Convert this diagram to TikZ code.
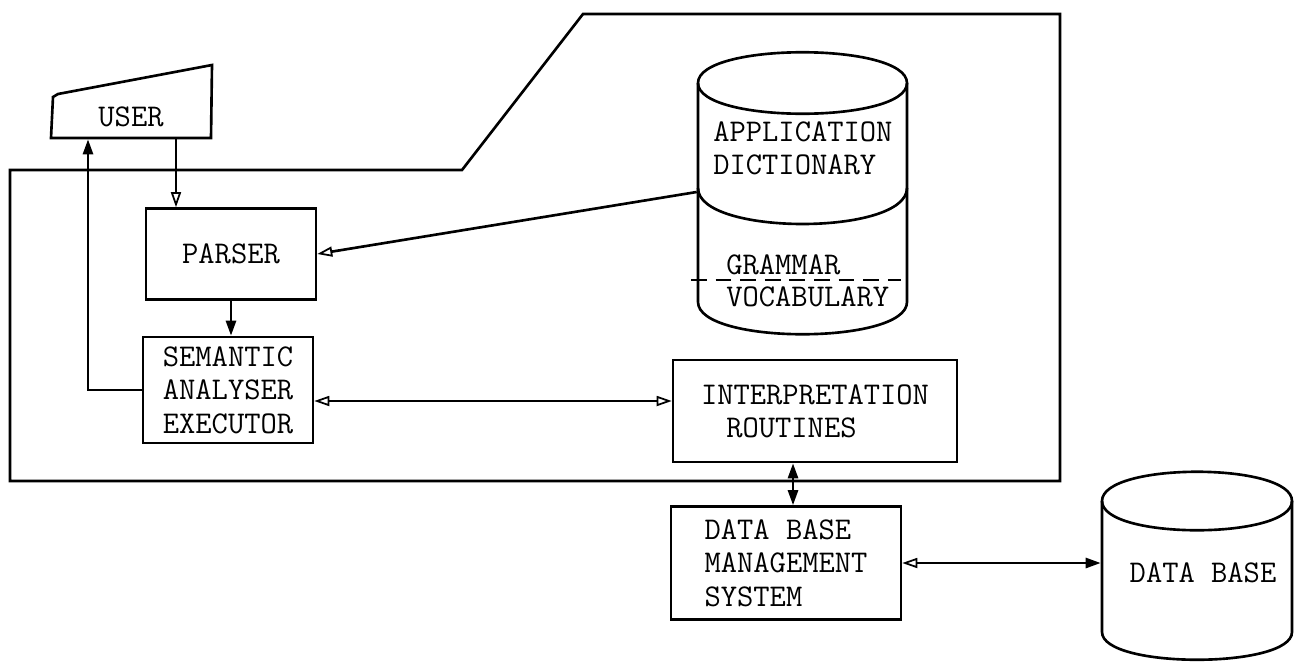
\documentclass[tikz,border=0pt]{standalone}
\usepackage{fontspec}
\usetikzlibrary{arrows.meta}

\tikzset{
    tfill/.tip={Triangle[length=3mm, width=2mm]},
    topen/.tip={Triangle[open, length=3mm, width=2mm, line width=1pt]}
}

\begin{document}
\begin{tikzpicture}[x=0.02cm, y=-0.02cm, line width=1.5pt,
        font=\ttfamily\fontsize{18}{19}\selectfont,
        box/.style={draw, align=left, inner sep=0pt},
        anchorbox/.style={inner sep=0pt}]
        \useasboundingbox (0,0) rectangle (1297,663);

        % frame round the system
        \draw (10,170)--(462,170)--(583,14)--(1060,14)--(1060,481)--(10,481)--cycle;

        % user terminal
        \draw (51,138)--(53,97)--(58,94)--(212,65)--(211,138)--cycle;
        \node[anchorbox, minimum width=3.2cm, minimum height=0.84cm] (user) at (131,117) {USER};

        \node[box, minimum width=3.4cm, minimum height=1.82cm] (parser) at (231,254) {PARSER};
        \node[box, minimum width=3.4cm, minimum height=2.12cm] (sem) at (228,390) {SEMANTIC\\ANALYSER\\EXECUTOR};
        \node[box, minimum width=5.68cm, minimum height=2.04cm] (interp) at (815,411) {INTERPRETATION\\\hspace*{0.8em}ROUTINES};
        \node[box, minimum width=4.6cm, minimum height=2.26cm] (dbms) at (786,563) {DATA BASE\\MANAGEMENT\\SYSTEM};

        % application dictionary
        \draw (698,83) .. controls (698,42) and (907,42) .. (907,83) .. controls (907,124) and (698,124) .. (698,83);
        \draw (698,83)--(698,302) .. controls (698,345) and (907,345) .. (907,302)--(907,83);
        \draw (698,188) .. controls (698,236) and (907,236) .. (907,188);
        \draw[dashed, line width=1.2pt, dash pattern=on 9pt off 5pt] (691,280)--(901,280);
        \node[anchorbox, minimum width=4.18cm] (dict) at (802.5,192) {};
        \node[anchorbox, anchor=west, align=left] (apptxt) at (712,148) {APPLICATION\\DICTIONARY};
        \node[anchorbox, anchor=west] (gram) at (725,265) {GRAMMAR};
        \node[anchorbox, anchor=west] (voc) at (725,297) {VOCABULARY};

        % data base
        \draw (1102,501) .. controls (1102,462) and (1292,462) .. (1292,501) .. controls (1292,540) and (1102,540) .. (1102,501);
        \draw (1102,501)--(1102,632) .. controls (1102,669) and (1292,669) .. (1292,632)--(1292,501);
        \node[anchorbox, minimum width=3.8cm] (db) at (1197,568) {};
        \node (dbtxt) at (1203,573) {DATA BASE};

        % connectors
        \draw[-topen] ([xshift=0.9cm]user.south) -- ([xshift=0.9cm]user.south |- parser.north);
        \draw[-tfill] (sem.west) -| ([xshift=-0.86cm]user.south);
        \draw[-topen] (dict.west) -- (parser.east);
        \draw[-tfill] (parser.south) -- (parser.south |- sem.north);
        \draw[topen-topen] ([yshift=-0.22cm]sem.east) -- ([yshift=-0.22cm]sem.east -| interp.west);
        \draw[tfill-tfill] ([xshift=-0.44cm]interp.south) -- ([xshift=-0.44cm]interp.south |- dbms.north);
        \draw[topen-tfill] (dbms.east) -- (dbms.east -| db.west);

    \end{tikzpicture}
\end{document}
